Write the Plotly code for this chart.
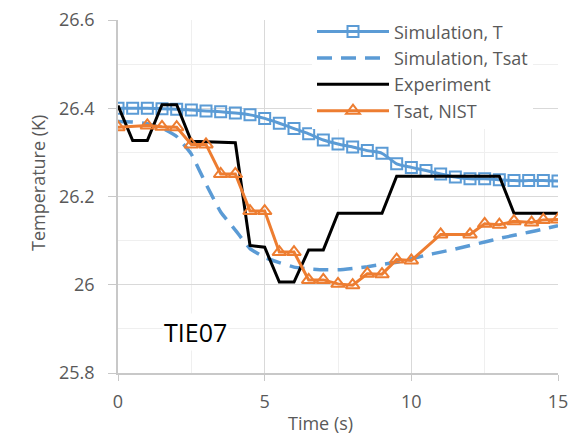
import plotly.graph_objects as go

# ---- data ----
t_sim = [0, 0.5, 1, 1.5, 2, 2.5, 3, 3.5, 4, 4.5, 5, 5.5, 6, 6.5, 7, 7.5, 8, 8.5,
         9, 9.5, 10, 10.5, 11, 11.5, 12, 12.5, 13, 13.5, 14, 14.5, 15]
sim_T = [26.400, 26.400, 26.400, 26.399, 26.398, 26.396, 26.394, 26.392, 26.389,
         26.385, 26.377, 26.366, 26.354, 26.342, 26.328, 26.319, 26.312, 26.304,
         26.298, 26.274, 26.266, 26.259, 26.251, 26.244, 26.240, 26.240, 26.238,
         26.236, 26.236, 26.236, 26.235]
sim_Tsat = [26.370, 26.369, 26.365, 26.355, 26.336, 26.296, 26.228, 26.165, 26.124,
            26.082, 26.062, 26.050, 26.040, 26.036, 26.034, 26.034, 26.037, 26.041,
            26.046, 26.051, 26.059, 26.067, 26.074, 26.081, 26.089, 26.097, 26.105,
            26.112, 26.119, 26.126, 26.134]

t_exp = [0, 0.5, 1, 1.5, 2, 2.5, 3, 3.5, 4, 4.5, 5, 5.5, 6, 6.5, 7, 7.5, 8, 8.5,
         9, 9.5, 10, 10.5, 11, 11.5, 12, 12.5, 13, 13.5, 14, 14.5, 15]
experiment = [26.406, 26.327, 26.327, 26.408, 26.408, 26.325, 26.324, 26.323, 26.322,
              26.089, 26.085, 26.006, 26.006, 26.079, 26.079, 26.162, 26.162, 26.162,
              26.162, 26.246, 26.246, 26.246, 26.246, 26.246, 26.246, 26.246, 26.246,
              26.162, 26.162, 26.162, 26.162]

t_nist = [0, 1, 1.5, 2, 2.5, 3, 3.5, 4, 4.5, 5, 5.5, 6, 6.5, 7, 7.5, 8, 8.5, 9,
          9.5, 10, 11, 12, 12.5, 13, 13.5, 14.1, 14.5, 15]
tsat_nist = [26.357, 26.361, 26.358, 26.357, 26.318, 26.318, 26.251, 26.251, 26.167,
             26.167, 26.074, 26.074, 26.011, 26.011, 26.002, 25.999, 26.025, 26.024,
             26.057, 26.055, 26.114, 26.114, 26.138, 26.136, 26.144, 26.141, 26.147,
             26.148]

x_ticks = [0, 5, 10, 15]
y_ticks = [25.8, 26.0, 26.2, 26.4, 26.6]
y_ticktext = ["25.8", "26", "26.2", "26.4", "26.6"]

BLUE = "#5B9BD5"
ORANGE = "#ED7D31"
FONT = "Open Sans"
GRAY = "#595959"

fig = go.Figure()
fig.add_trace(go.Scatter(
    x=t_sim, y=sim_T, name="Simulation, T", mode="lines+markers",
    line=dict(color=BLUE, width=3, shape="spline", smoothing=0.6),
    marker=dict(symbol="square-open", size=11, color=BLUE, line=dict(width=2, color=BLUE)),
))
fig.add_trace(go.Scatter(
    x=t_sim, y=sim_Tsat, name="Simulation, Tsat", mode="lines",
    line=dict(color=BLUE, width=3.5, dash="15px,9px", shape="spline", smoothing=0.4),
))
fig.add_trace(go.Scatter(
    x=t_exp, y=experiment, name="Experiment", mode="lines",
    line=dict(color="black", width=3),
))
fig.add_trace(go.Scatter(
    x=t_nist, y=tsat_nist, name="Tsat, NIST", mode="lines+markers",
    line=dict(color=ORANGE, width=3),
    marker=dict(symbol="triangle-up-open", size=12, color=ORANGE, line=dict(width=2, color=ORANGE)),
))

fig.update_layout(
    width=569, height=434,
    margin=dict(l=118, r=11, t=20, b=61, autoexpand=False),
    paper_bgcolor="white", plot_bgcolor="white",
    font=dict(family=FONT, size=18, color=GRAY),
    showlegend=True,
    legend=dict(x=(312 - 118) / 440, y=1.019, xanchor="left", yanchor="top",
                bgcolor="white", borderwidth=0, itemwidth=72,
                font=dict(family=FONT, size=18, color=GRAY),
                tracegroupgap=0),
    annotations=[
        dict(text="TIE07", xref="paper", yref="paper", x=(195 - 118) / 440,
             y=(373 - 332) / 353, showarrow=False, xanchor="center", yanchor="middle",
             font=dict(family=FONT, size=25, color="black"), bgcolor="white"),
        dict(text="Time (s)", xref="paper", yref="paper", x=(320 - 118) / 440,
             y=(373 - 423) / 353, showarrow=False, xanchor="center", yanchor="middle",
             font=dict(family=FONT, size=18, color=GRAY)),
        dict(text="Temperature (K)", xref="paper", yref="paper", x=(38 - 118) / 440,
             y=(373 - 183) / 353, showarrow=False, xanchor="center", yanchor="middle",
             textangle=-90, font=dict(family=FONT, size=18, color=GRAY)),
    ],
)
fig.update_xaxes(
    range=[0, 15], tickmode="array", tickvals=x_ticks, ticktext=[str(v) for v in x_ticks],
    showgrid=True, gridcolor="#d9d9d9", gridwidth=1,
    minor=dict(dtick=2.5, tick0=0, showgrid=True, gridcolor="#efefef", ticks=""),
    showline=True, linecolor="#c8c8c8", linewidth=1.5,
    ticks="outside", ticklen=6, tickcolor="#c8c8c8", ticklabelstandoff=6,
    zeroline=False, automargin=False,
)
fig.update_yaxes(
    range=[25.8, 26.6], tickmode="array", tickvals=y_ticks, ticktext=y_ticktext,
    showgrid=True, gridcolor="#d9d9d9", gridwidth=1,
    minor=dict(dtick=0.1, tick0=25.8, showgrid=True, gridcolor="#efefef", ticks=""),
    showline=True, linecolor="#c8c8c8", linewidth=1.5,
    ticks="outside", ticklen=8, tickcolor="#c8c8c8", ticklabelstandoff=10,
    zeroline=False, automargin=False,
)

fig.write_html("out.html", config={"displayModeBar": False},
               post_script="document.body.style.margin='0';document.body.style.overflow='hidden';")
